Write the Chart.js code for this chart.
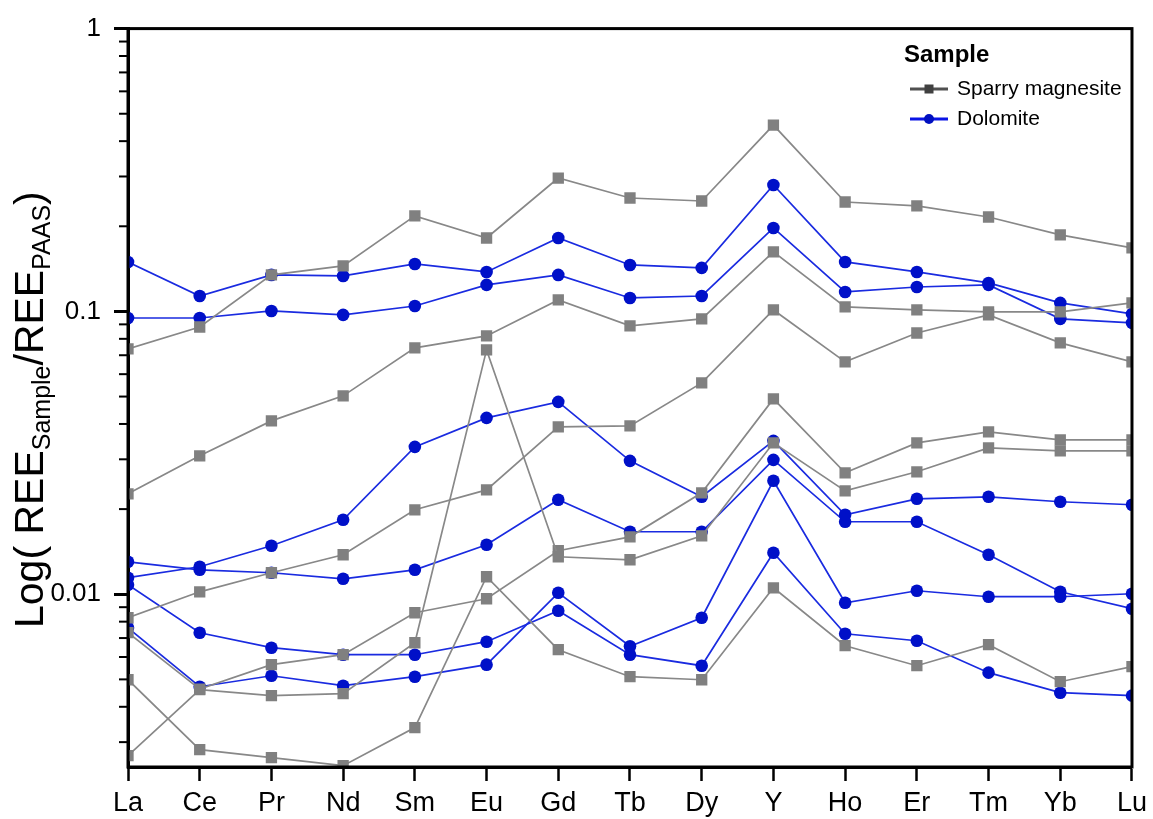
<!DOCTYPE html>
<html>
<head>
<meta charset="utf-8">
<script src="https://cdn.jsdelivr.net/npm/chart.js@4.4.1/dist/chart.umd.min.js"></script>
<style>
  html, body { margin: 0; padding: 0; background: #fff; }
  canvas { display: block; }
</style>
</head>
<body>
<canvas id="ree" width="1153" height="819"></canvas>
<script>
// Rare earth elements (plus Y) along the x axis
const elements = ['La', 'Ce', 'Pr', 'Nd', 'Sm', 'Eu', 'Gd', 'Tb', 'Dy', 'Y', 'Ho', 'Er', 'Tm', 'Yb', 'Lu'];

// Labelled decades on the log axis, and the unlabelled minor ticks between them
const yMajorTicks = [0.01, 0.1, 1];
const yTickLabels = ['0.01', '0.1', '1'];
const yMinorTicks = [0.003, 0.004, 0.005, 0.006, 0.007, 0.008, 0.009,
                     0.02, 0.03, 0.04, 0.05, 0.06, 0.07, 0.08, 0.09,
                     0.2, 0.3, 0.4, 0.5, 0.6, 0.7, 0.8, 0.9];

const legendTitle = 'Sample';
const legendLabels = ['Sparry magnesite', 'Dolomite'];

// PAAS-normalised REE patterns, sparry magnesite samples
const magnesite1 = [0.0737, 0.0881, 0.1346, 0.1448, 0.2176, 0.1818, 0.2962, 0.2518, 0.2457, 0.456, 0.2437, 0.236, 0.2157, 0.1864, 0.1677];
const magnesite2 = [0.02265, 0.03087, 0.04102, 0.05029, 0.0743, 0.0819, 0.1098, 0.0889, 0.0941, 0.1623, 0.1037, 0.1012, 0.0996, 0.0996, 0.1072];
const magnesite3 = [0.00826, 0.0102, 0.01191, 0.01379, 0.01989, 0.02339, 0.03907, 0.03939, 0.05589, 0.1012, 0.0663, 0.0839, 0.0972, 0.0774, 0.0663];
const magnesite4 = [0.002688, 0.004598, 0.004379, 0.004451, 0.006739, 0.0731, 0.01357, 0.01324, 0.01609, 0.0343, 0.0232, 0.0271, 0.03293, 0.03214, 0.03214];
const magnesite5 = [0.007311, 0.00462, 0.005636, 0.006112, 0.0086, 0.009641, 0.01425, 0.01596, 0.02284, 0.04906, 0.02687, 0.0343, 0.03752, 0.03515, 0.03515];
const magnesite6 = [0.004986, 0.002822, 0.002644, 0.002477, 0.003376, 0.01153, 0.006366, 0.00511, 0.004986, 0.01054, 0.006577, 0.005589, 0.006631, 0.004906, 0.005544];

// PAAS-normalised REE patterns, dolomite samples
const dolomite1 = [0.1496, 0.1134, 0.1346, 0.1335, 0.1472, 0.1379, 0.1818, 0.146, 0.1425, 0.2799, 0.1496, 0.1379, 0.1261, 0.1072, 0.098];
const dolomite2 = [0.0948, 0.0948, 0.1004, 0.0972, 0.1045, 0.1241, 0.1346, 0.1116, 0.1134, 0.1973, 0.1172, 0.122, 0.1241, 0.0941, 0.0911];
const dolomite3 = [0.01144, 0.01251, 0.01484, 0.01834, 0.0332, 0.04204, 0.04789, 0.02962, 0.02211, 0.03486, 0.0191, 0.02175, 0.02211, 0.02123, 0.02072];
const dolomite4 = [0.01302, 0.0122, 0.01191, 0.01134, 0.0122, 0.01496, 0.02158, 0.01663, 0.01663, 0.02987, 0.01804, 0.01804, 0.01379, 0.0102, 0.00889];
const dolomite5 = [0.0108, 0.007311, 0.006471, 0.006112, 0.006112, 0.006795, 0.00874, 0.006112, 0.005589, 0.01402, 0.00725, 0.00685, 0.005281, 0.004487, 0.004379];
const dolomite6 = [0.00761, 0.00471, 0.00515, 0.00475, 0.00511, 0.005636, 0.01012, 0.00655, 0.00826, 0.02518, 0.00933, 0.01029, 0.0098, 0.0098, 0.01004];

const FONT = '"Liberation Sans", Arial, Helvetica, sans-serif';
const GRAY_LINE = '#888888';
const GRAY_MARK = '#808080';
const BLUE_LINE = '#1a2be0';
const BLUE_MARK = '#0010c8';

const magnesiteSets = [magnesite1, magnesite2, magnesite3, magnesite4, magnesite5, magnesite6].map(d => ({
  label: legendLabels[0],
  data: d,
  borderColor: GRAY_LINE,
  borderWidth: 1.7,
  backgroundColor: GRAY_MARK,
  pointStyle: 'rect',
  pointRadius: 8,
  pointBorderWidth: 0,
  pointBackgroundColor: GRAY_MARK,
  tension: 0,
  clip: 0
}));

const dolomiteSets = [dolomite1, dolomite2, dolomite3, dolomite4, dolomite5, dolomite6].map(d => ({
  label: legendLabels[1],
  data: d,
  borderColor: BLUE_LINE,
  borderWidth: 1.7,
  backgroundColor: BLUE_MARK,
  pointStyle: 'circle',
  pointRadius: 6.3,
  pointBorderWidth: 0,
  pointBackgroundColor: BLUE_MARK,
  tension: 0,
  clip: 0
}));

// Closed black frame plus short minor ticks on the log axis
const framePlugin = {
  id: 'frame',
  afterDatasetsDraw(chart) {
    const { ctx, chartArea: a } = chart;
    const y = chart.scales.y;
    ctx.save();
    ctx.strokeStyle = '#000';
    ctx.lineWidth = 3;
    ctx.strokeRect(a.left, a.top, a.right - a.left, a.bottom - a.top);
    ctx.lineWidth = 2;
    for (const v of yMinorTicks) {
      const py = y.getPixelForValue(v);
      ctx.beginPath();
      ctx.moveTo(a.left - 9, py);
      ctx.lineTo(a.left, py);
      ctx.stroke();
    }
    ctx.restore();
  }
};

// Rotated axis title with subscripts
const yTitlePlugin = {
  id: 'yTitle',
  afterDraw(chart) {
    const ctx = chart.ctx;
    const parts = [
      ['Log( REE', 41, 0],
      ['Sample', 25, 7],
      ['/REE', 41, 0],
      ['PAAS', 25, 7],
      [')', 41, 0]
    ];
    ctx.save();
    ctx.translate(43, 628);
    ctx.rotate(-Math.PI / 2);
    ctx.fillStyle = '#000';
    ctx.textBaseline = 'alphabetic';
    ctx.textAlign = 'left';
    let x = 0;
    for (const [t, size, dy] of parts) {
      ctx.font = size + 'px ' + FONT;
      ctx.fillText(t, x, dy);
      x += ctx.measureText(t).width;
    }
    ctx.restore();
  }
};

// Grouped legend: one entry per sample type
const legendPlugin = {
  id: 'groupLegend',
  afterDraw(chart) {
    const ctx = chart.ctx;
    ctx.save();
    ctx.fillStyle = '#000';
    ctx.textBaseline = 'middle';
    ctx.textAlign = 'left';
    ctx.font = 'bold 24px ' + FONT;
    ctx.fillText(legendTitle, 904, 55);

    const rows = [
      { y: 89, line: '#505050', mark: '#404040', shape: 'rect' },
      { y: 119, line: '#0a14e6', mark: '#0010c0', shape: 'circle' }
    ];
    rows.forEach((r, i) => {
      ctx.strokeStyle = r.line;
      ctx.lineWidth = 3;
      ctx.beginPath();
      ctx.moveTo(910, r.y);
      ctx.lineTo(948, r.y);
      ctx.stroke();
      ctx.fillStyle = r.mark;
      if (r.shape === 'rect') {
        ctx.fillRect(929 - 4.5, r.y - 4.5, 9, 9);
      } else {
        ctx.beginPath();
        ctx.arc(929, r.y, 5, 0, Math.PI * 2);
        ctx.fill();
      }
      ctx.fillStyle = '#000';
      ctx.font = '21px ' + FONT;
      ctx.fillText(legendLabels[i], 957, r.y);
    });
    ctx.restore();
  }
};

Chart.defaults.font.family = FONT;

new Chart(document.getElementById('ree'), {
  type: 'line',
  data: {
    labels: elements,
    datasets: magnesiteSets.concat(dolomiteSets)
  },
  options: {
    responsive: false,
    animation: false,
    devicePixelRatio: 1,
    layout: { padding: { top: 28, right: 20, left: 0, bottom: 0 } },
    plugins: {
      legend: { display: false },
      tooltip: { enabled: false }
    },
    scales: {
      x: {
        type: 'category',
        offset: false,
        afterFit(scale) { scale.height = 52; },
        grid: { drawOnChartArea: false, drawTicks: true, tickLength: 14, tickWidth: 2.5, tickColor: '#000' },
        border: { display: true, color: '#000', width: 3 },
        ticks: { color: '#000', font: { size: 27 }, padding: 6, maxRotation: 0, autoSkip: false }
      },
      y: {
        type: 'logarithmic',
        min: 0.00245,
        max: 1,
        afterFit(scale) { scale.width = 128; },
        afterBuildTicks(scale) { scale.ticks = yMajorTicks.map(v => ({ value: v, major: true })); },
        grid: { drawOnChartArea: false, drawTicks: true, tickLength: 14, tickWidth: 3, tickColor: '#000' },
        border: { display: true, color: '#000', width: 3 },
        ticks: {
          color: '#000',
          font: { size: 26 },
          padding: 13,
          callback: (value, index) => yTickLabels[index]
        }
      }
    }
  },
  plugins: [framePlugin, yTitlePlugin, legendPlugin]
});
</script>
</body>
</html>
